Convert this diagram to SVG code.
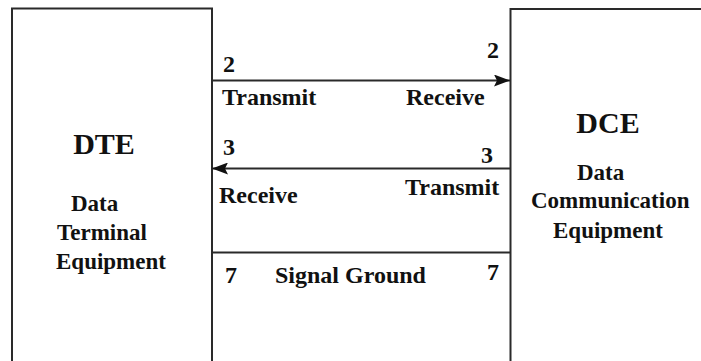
<svg xmlns="http://www.w3.org/2000/svg" width="701" height="361" viewBox="0 0 701 361">
<defs>
<style>
.box{fill:#fff;stroke:#2a2a2a;stroke-width:2}
.ln{stroke:#2a2a2a;stroke-width:2;fill:none}
.t{font-size:24px}
.s{font-size:23px}
.h{font-size:30px}
</style>
<marker id="ah" viewBox="0 0 16 12" markerWidth="16" markerHeight="12" refX="16" refY="6" orient="auto" markerUnits="userSpaceOnUse">
<path d="M0,0 L16,6 L0,12 L3,6 Z" fill="#111"/>
</marker>
</defs>
<rect width="701" height="361" fill="#fff"/>
<g font-family="'Liberation Serif', 'Times New Roman', Times, serif" font-weight="bold" fill="#111">
<g id="dte">
<rect class="box" x="12" y="8.5" width="200" height="360"/>
<text class="h" x="104" y="154" text-anchor="middle">DTE</text>
<text class="s" x="71" y="211">Data</text>
<text class="s" x="57" y="240">Terminal</text>
<text class="s" x="56" y="269">Equipment</text>
</g>
<g id="dce">
<rect class="box" x="510.5" y="9" width="200" height="360"/>
<text class="h" x="608" y="133" text-anchor="middle">DCE</text>
<text class="s" x="577" y="180">Data</text>
<text class="s" x="531" y="208">Communication</text>
<text class="s" x="553" y="238">Equipment</text>
</g>
<g id="connectors">
<line class="ln" x1="212" y1="80.5" x2="510" y2="80.5" marker-end="url(#ah)"/>
<line class="ln" x1="510" y1="168.5" x2="212" y2="168.5" marker-end="url(#ah)"/>
<line class="ln" x1="212" y1="252.5" x2="510" y2="252.5"/>
</g>
<g id="labels">
<text class="t" x="223" y="72">2</text>
<text class="t" x="222" y="105">Transmit</text>
<text class="t" x="487" y="58">2</text>
<text class="t" x="406" y="105">Receive</text>
<text class="t" x="223" y="155">3</text>
<text class="t" x="481" y="163">3</text>
<text class="t" x="219" y="203">Receive</text>
<text class="t" x="405" y="195">Transmit</text>
<text class="t" x="225" y="283">7</text>
<text class="t" x="275" y="283">Signal Ground</text>
<text class="t" x="487" y="280">7</text>
</g>
</g>
</svg>
